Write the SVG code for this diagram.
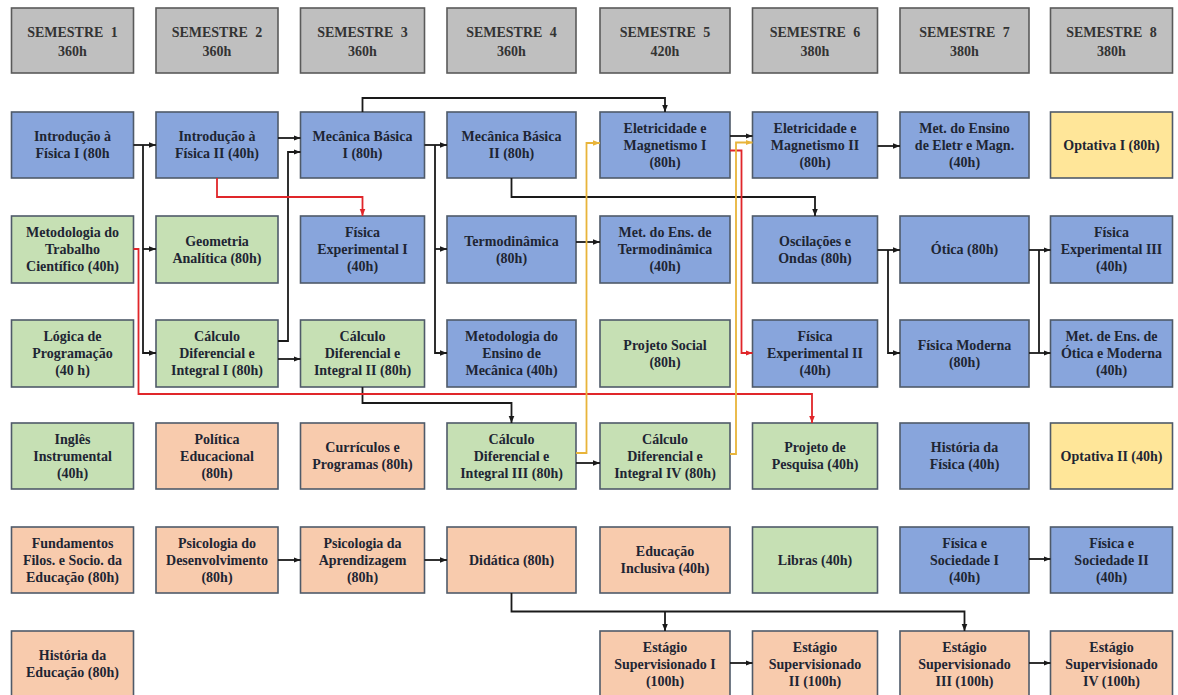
<svg xmlns="http://www.w3.org/2000/svg" width="1178" height="695" viewBox="0 0 1178 695">
<style>
  .box{stroke:#4f5a69;stroke-width:1.6}
  .hdr{fill:#bfbfbf;stroke:#5a5a5a;stroke-width:1.6}
  .blue{fill:#88a5dc}
  .green{fill:#c6e0b4}
  .orange{fill:#f8cbad}
  .yellow{fill:#ffe699}
  text{font-family:"Liberation Serif","Times New Roman",serif;font-weight:bold;font-size:14px;fill:#1e2533;text-anchor:middle}
  .ht{font-size:14px;word-spacing:4px;fill:#333}
  .c{fill:none;stroke-width:1.8}
  .k{stroke:#1a1a1a}
  .r{stroke:#e0262a}
  .y{stroke:#e8b43a}
</style>
<defs>
  <marker id="ak" viewBox="0 0 10 10" refX="10" refY="5" markerWidth="7" markerHeight="7" markerUnits="userSpaceOnUse" orient="auto"><path d="M0,1 L10,5 L0,9 z" fill="#1a1a1a"/></marker>
  <marker id="ar" viewBox="0 0 10 10" refX="10" refY="5" markerWidth="7" markerHeight="7" markerUnits="userSpaceOnUse" orient="auto"><path d="M0,1 L10,5 L0,9 z" fill="#e0262a"/></marker>
  <marker id="ay" viewBox="0 0 10 10" refX="10" refY="5" markerWidth="7" markerHeight="7" markerUnits="userSpaceOnUse" orient="auto"><path d="M0,1 L10,5 L0,9 z" fill="#e8b43a"/></marker>
</defs>
<rect width="1178" height="695" fill="#ffffff"/>

<!-- headers -->
<g id="sem1"><rect class="hdr" x="11.5" y="8" width="122" height="65"/><text class="ht" x="72.5" y="36.7">SEMESTRE 1</text><text class="ht" x="72.5" y="55.7">360h</text></g>
<g id="sem2"><rect class="hdr" x="156" y="8" width="122" height="65"/><text class="ht" x="217" y="36.7">SEMESTRE 2</text><text class="ht" x="217" y="55.7">360h</text></g>
<g id="sem3"><rect class="hdr" x="300.5" y="8" width="124" height="65"/><text class="ht" x="362.5" y="36.7">SEMESTRE 3</text><text class="ht" x="362.5" y="55.7">360h</text></g>
<g id="sem4"><rect class="hdr" x="447" y="8" width="129" height="65"/><text class="ht" x="511.5" y="36.7">SEMESTRE 4</text><text class="ht" x="511.5" y="55.7">360h</text></g>
<g id="sem5"><rect class="hdr" x="600" y="8" width="130" height="65"/><text class="ht" x="665" y="36.7">SEMESTRE 5</text><text class="ht" x="665" y="55.7">420h</text></g>
<g id="sem6"><rect class="hdr" x="752.5" y="8" width="125" height="65"/><text class="ht" x="815" y="36.7">SEMESTRE 6</text><text class="ht" x="815" y="55.7">380h</text></g>
<g id="sem7"><rect class="hdr" x="900" y="8" width="129" height="65"/><text class="ht" x="964.5" y="36.7">SEMESTRE 7</text><text class="ht" x="964.5" y="55.7">380h</text></g>
<g id="sem8"><rect class="hdr" x="1050.5" y="8" width="122" height="65"/><text class="ht" x="1111.5" y="36.7">SEMESTRE 8</text><text class="ht" x="1111.5" y="55.7">380h</text></g>

<!-- row 1 -->
<g id="intro1"><rect class="box blue" x="11.5" y="112" width="122" height="66"/><text x="72.5" y="141.2">Introdução à</text><text x="72.5" y="158.2">Física I (80h</text></g>
<g id="intro2"><rect class="box blue" x="156" y="112" width="122" height="66"/><text x="217" y="141.2">Introdução à</text><text x="217" y="158.2">Física II (40h)</text></g>
<g id="mec1"><rect class="box blue" x="300.5" y="112" width="124" height="66"/><text x="362.5" y="141.2">Mecânica Básica</text><text x="362.5" y="158.2">I (80h)</text></g>
<g id="mec2"><rect class="box blue" x="447" y="112" width="129" height="66"/><text x="511.5" y="141.2">Mecânica Básica</text><text x="511.5" y="158.2">II (80h)</text></g>
<g id="elet1"><rect class="box blue" x="600" y="112" width="130" height="66"/><text x="665" y="132.7">Eletricidade e</text><text x="665" y="149.7">Magnetismo I</text><text x="665" y="166.7">(80h)</text></g>
<g id="elet2"><rect class="box blue" x="752.5" y="112" width="125" height="66"/><text x="815" y="132.7">Eletricidade e</text><text x="815" y="149.7">Magnetismo II</text><text x="815" y="166.7">(80h)</text></g>
<g id="metelet"><rect class="box blue" x="900" y="112" width="129" height="66"/><text x="964.5" y="132.7">Met. do Ensino</text><text x="964.5" y="149.7">de Eletr e Magn.</text><text x="964.5" y="166.7">(40h)</text></g>
<g id="opt1"><rect class="box yellow" x="1050.5" y="112" width="122" height="66"/><text x="1111.5" y="149.7">Optativa I (80h)</text></g>

<!-- row 2 -->
<g id="mettrab"><rect class="box green" x="11.5" y="216" width="122" height="67"/><text x="72.5" y="237.2">Metodologia do</text><text x="72.5" y="254.2">Trabalho</text><text x="72.5" y="271.2">Científico (40h)</text></g>
<g id="geom"><rect class="box green" x="156" y="216" width="122" height="67"/><text x="217" y="245.7">Geometria</text><text x="217" y="262.7">Analítica (80h)</text></g>
<g id="fexp1"><rect class="box blue" x="300.5" y="216" width="124" height="67"/><text x="362.5" y="237.2">Física</text><text x="362.5" y="254.2">Experimental I</text><text x="362.5" y="271.2">(40h)</text></g>
<g id="termo"><rect class="box blue" x="447" y="216" width="129" height="67"/><text x="511.5" y="245.7">Termodinâmica</text><text x="511.5" y="262.7">(80h)</text></g>
<g id="mettermo"><rect class="box blue" x="600" y="216" width="130" height="67"/><text x="665" y="237.2">Met. do Ens. de</text><text x="665" y="254.2">Termodinâmica</text><text x="665" y="271.2">(40h)</text></g>
<g id="oscil"><rect class="box blue" x="752.5" y="216" width="125" height="67"/><text x="815" y="245.7">Oscilações e</text><text x="815" y="262.7">Ondas (80h)</text></g>
<g id="otica"><rect class="box blue" x="900" y="216" width="129" height="67"/><text x="964.5" y="254.2">Ótica (80h)</text></g>
<g id="fexp3"><rect class="box blue" x="1050.5" y="216" width="122" height="67"/><text x="1111.5" y="237.2">Física</text><text x="1111.5" y="254.2">Experimental III</text><text x="1111.5" y="271.2">(40h)</text></g>

<!-- row 3 -->
<g id="logica"><rect class="box green" x="11.5" y="320" width="122" height="67"/><text x="72.5" y="341.2">Lógica de</text><text x="72.5" y="358.2">Programação</text><text x="72.5" y="375.2">(40 h)</text></g>
<g id="calc1"><rect class="box green" x="156" y="320" width="122" height="67"/><text x="217" y="341.2">Cálculo</text><text x="217" y="358.2">Diferencial e</text><text x="217" y="375.2">Integral I (80h)</text></g>
<g id="calc2"><rect class="box green" x="300.5" y="320" width="124" height="67"/><text x="362.5" y="341.2">Cálculo</text><text x="362.5" y="358.2">Diferencial e</text><text x="362.5" y="375.2">Integral II (80h)</text></g>
<g id="metmec"><rect class="box blue" x="447" y="320" width="129" height="67"/><text x="511.5" y="341.2">Metodologia do</text><text x="511.5" y="358.2">Ensino de</text><text x="511.5" y="375.2">Mecânica (40h)</text></g>
<g id="projsoc"><rect class="box green" x="600" y="320" width="130" height="67"/><text x="665" y="349.7">Projeto Social</text><text x="665" y="366.7">(80h)</text></g>
<g id="fexp2"><rect class="box blue" x="752.5" y="320" width="125" height="67"/><text x="815" y="341.2">Física</text><text x="815" y="358.2">Experimental II</text><text x="815" y="375.2">(40h)</text></g>
<g id="fmod"><rect class="box blue" x="900" y="320" width="129" height="67"/><text x="964.5" y="349.7">Física Moderna</text><text x="964.5" y="366.7">(80h)</text></g>
<g id="metotica"><rect class="box blue" x="1050.5" y="320" width="122" height="67"/><text x="1111.5" y="341.2">Met. de Ens. de</text><text x="1111.5" y="358.2">Ótica e Moderna</text><text x="1111.5" y="375.2">(40h)</text></g>

<!-- row 4 -->
<g id="ingles"><rect class="box green" x="11.5" y="423" width="122" height="66"/><text x="72.5" y="443.7">Inglês</text><text x="72.5" y="460.7">Instrumental</text><text x="72.5" y="477.7">(40h)</text></g>
<g id="politica"><rect class="box orange" x="156" y="423" width="122" height="66"/><text x="217" y="443.7">Política</text><text x="217" y="460.7">Educacional</text><text x="217" y="477.7">(80h)</text></g>
<g id="curric"><rect class="box orange" x="300.5" y="423" width="124" height="66"/><text x="362.5" y="452.2">Currículos e</text><text x="362.5" y="469.2">Programas (80h)</text></g>
<g id="calc3"><rect class="box green" x="447" y="423" width="129" height="66"/><text x="511.5" y="443.7">Cálculo</text><text x="511.5" y="460.7">Diferencial e</text><text x="511.5" y="477.7">Integral III (80h)</text></g>
<g id="calc4"><rect class="box green" x="600" y="423" width="130" height="66"/><text x="665" y="443.7">Cálculo</text><text x="665" y="460.7">Diferencial e</text><text x="665" y="477.7">Integral IV (80h)</text></g>
<g id="projpesq"><rect class="box green" x="752.5" y="423" width="125" height="66"/><text x="815" y="452.2">Projeto de</text><text x="815" y="469.2">Pesquisa (40h)</text></g>
<g id="histfis"><rect class="box blue" x="900" y="423" width="129" height="66"/><text x="964.5" y="452.2">História da</text><text x="964.5" y="469.2">Física (40h)</text></g>
<g id="opt2"><rect class="box yellow" x="1050.5" y="423" width="122" height="66"/><text x="1111.5" y="460.7">Optativa II (40h)</text></g>

<!-- row 5 -->
<g id="fund"><rect class="box orange" x="11.5" y="527" width="122" height="66"/><text x="72.5" y="547.7">Fundamentos</text><text x="72.5" y="564.7">Filos. e Socio. da</text><text x="72.5" y="581.7">Educação (80h)</text></g>
<g id="psidesenv"><rect class="box orange" x="156" y="527" width="122" height="66"/><text x="217" y="547.7">Psicologia do</text><text x="217" y="564.7">Desenvolvimento</text><text x="217" y="581.7">(80h)</text></g>
<g id="psiaprend"><rect class="box orange" x="300.5" y="527" width="124" height="66"/><text x="362.5" y="547.7">Psicologia da</text><text x="362.5" y="564.7">Aprendizagem</text><text x="362.5" y="581.7">(80h)</text></g>
<g id="didatica"><rect class="box orange" x="447" y="527" width="129" height="66"/><text x="511.5" y="564.7">Didática (80h)</text></g>
<g id="edinc"><rect class="box orange" x="600" y="527" width="130" height="66"/><text x="665" y="556.2">Educação</text><text x="665" y="573.2">Inclusiva (40h)</text></g>
<g id="libras"><rect class="box green" x="752.5" y="527" width="125" height="66"/><text x="815" y="564.7">Libras (40h)</text></g>
<g id="fsoc1"><rect class="box blue" x="900" y="527" width="129" height="66"/><text x="964.5" y="547.7">Física e</text><text x="964.5" y="564.7">Sociedade I</text><text x="964.5" y="581.7">(40h)</text></g>
<g id="fsoc2"><rect class="box blue" x="1050.5" y="527" width="122" height="66"/><text x="1111.5" y="547.7">Física e</text><text x="1111.5" y="564.7">Sociedade II</text><text x="1111.5" y="581.7">(40h)</text></g>

<!-- row 6 -->
<g id="histedu"><rect class="box orange" x="11.5" y="631" width="122" height="68"/><text x="72.5" y="660.2">História da</text><text x="72.5" y="677.2">Educação (80h)</text></g>
<g id="est1"><rect class="box orange" x="600" y="631" width="130" height="68"/><text x="665" y="651.7">Estágio</text><text x="665" y="668.7">Supervisionado I</text><text x="665" y="685.7">(100h)</text></g>
<g id="est2"><rect class="box orange" x="752.5" y="631" width="125" height="68"/><text x="815" y="651.7">Estágio</text><text x="815" y="668.7">Supervisionado</text><text x="815" y="685.7">II (100h)</text></g>
<g id="est3"><rect class="box orange" x="900" y="631" width="129" height="68"/><text x="964.5" y="651.7">Estágio</text><text x="964.5" y="668.7">Supervisionado</text><text x="964.5" y="685.7">III (100h)</text></g>
<g id="est4"><rect class="box orange" x="1050.5" y="631" width="122" height="68"/><text x="1111.5" y="651.7">Estágio</text><text x="1111.5" y="668.7">Supervisionado</text><text x="1111.5" y="685.7">IV (100h)</text></g>

<!-- connectors -->
<g id="connectors">
  <path class="c k" d="M133.5,145 H156" marker-end="url(#ak)"/>
  <path class="c k" d="M143,145 V353 H156" marker-end="url(#ak)"/>
  <path class="c k" d="M143,249 H156" marker-end="url(#ak)"/>
  <path class="c k" d="M278,138 H300.5" marker-end="url(#ak)"/>
  <path class="c k" d="M278,341 H288 V152 H300.5" marker-end="url(#ak)"/>
  <path class="c k" d="M424.5,145 H447" marker-end="url(#ak)"/>
  <path class="c k" d="M435,145 V353 H447" marker-end="url(#ak)"/>
  <path class="c k" d="M435,249 H447" marker-end="url(#ak)"/>
  <path class="c k" d="M362.5,112 V98 H665 V112" marker-end="url(#ak)"/>
  <path class="c k" d="M511.5,178 V197 H815 V216" marker-end="url(#ak)"/>
  <path class="c k" d="M576,242 H600" marker-end="url(#ak)"/>
  <path class="c k" d="M730,136 H752.5" marker-end="url(#ak)"/>
  <path class="c k" d="M877.5,146 H900" marker-end="url(#ak)"/>
  <path class="c k" d="M877.5,250 H900" marker-end="url(#ak)"/>
  <path class="c k" d="M888,250 V353 H900" marker-end="url(#ak)"/>
  <path class="c k" d="M1029,250 H1050.5" marker-end="url(#ak)"/>
  <path class="c k" d="M1039,250 V353"/>
  <path class="c k" d="M1029,353 H1050.5" marker-end="url(#ak)"/>
  <path class="c k" d="M278,359 H300.5" marker-end="url(#ak)"/>
  <path class="c k" d="M362.5,387 V403 H511.5 V423" marker-end="url(#ak)"/>
  <path class="c k" d="M576,463 H600" marker-end="url(#ak)"/>
  <path class="c k" d="M278,560 H300.5" marker-end="url(#ak)"/>
  <path class="c k" d="M424.5,560 H447" marker-end="url(#ak)"/>
  <path class="c k" d="M1029,559 H1050.5" marker-end="url(#ak)"/>
  <path class="c k" d="M511.5,593 V611.5 H964.5 V631" marker-end="url(#ak)"/>
  <path class="c k" d="M665,611.5 V631" marker-end="url(#ak)"/>
  <path class="c k" d="M730,663 H752.5" marker-end="url(#ak)"/>
  <path class="c k" d="M1029,663 H1050.5" marker-end="url(#ak)"/>
  <path class="c r" d="M217,178 V197 H362.5 V216" marker-end="url(#ar)"/>
  <path class="c r" d="M133.5,249 H138.5 V394 H812 V423" marker-end="url(#ar)"/>
  <path class="c r" d="M730,150.5 H741.5 V353 H752.5" marker-end="url(#ar)"/>
  <path class="c y" d="M576,453 H586.5 V143 H600" marker-end="url(#ay)"/>
  <path class="c y" d="M730,454 H736 V142.5 H752.5" marker-end="url(#ay)"/>
</g>
</svg>
